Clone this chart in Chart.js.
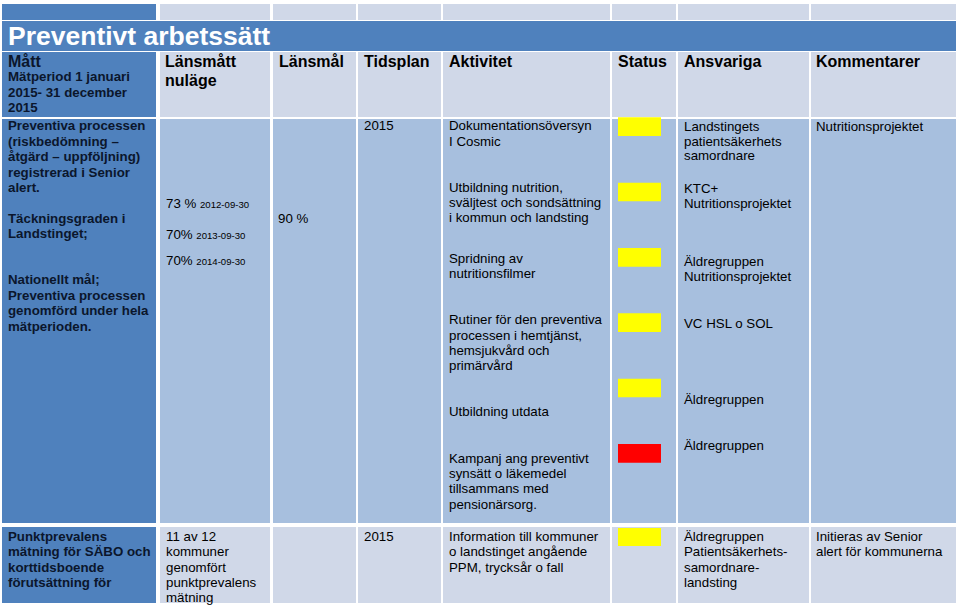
<!DOCTYPE html>
<html>
<head>
<meta charset="utf-8">
<script src="https://cdn.jsdelivr.net/npm/chart.js@4/dist/chart.umd.min.js"></script>
<style>
  body { margin: 0; background: #fff; }
  #slide { position: relative; width: 960px; height: 606px; overflow: hidden;
           font-family: "Liberation Sans", Arial, sans-serif; }
  .c { position: absolute; }
  .d { background: #4F81BD; }
  .l { background: #D0D8E8; }
  .m { background: #A7BFDE; }
  .t { position: absolute; font-size: 13.3px; line-height: 15.3px; white-space: nowrap; color: #000; }
  .b { font-weight: bold; color: #0b162c; }
  .h { position: absolute; font-size: 16px; line-height: 19px; font-weight: bold; white-space: nowrap; color: #000; top: 51.5px; }
  .sm { font-size: 9.6px; }
  canvas { position: absolute; }
</style>
</head>
<body>
<div id="slide">
  <!-- top strip -->
  <div class="c d" style="left:2px;top:4px;width:154px;height:16px"></div>
  <div class="c l" style="left:160px;top:4px;width:110px;height:16px"></div>
  <div class="c l" style="left:273px;top:4px;width:83px;height:16px"></div>
  <div class="c l" style="left:358px;top:4px;width:83px;height:16px"></div>
  <div class="c l" style="left:443px;top:4px;width:167px;height:16px"></div>
  <div class="c l" style="left:612px;top:4px;width:64px;height:16px"></div>
  <div class="c l" style="left:678px;top:4px;width:131px;height:16px"></div>
  <div class="c l" style="left:811px;top:4px;width:145px;height:16px"></div>

  <!-- title -->
  <div class="c d" style="left:2px;top:21px;width:954px;height:30px"></div>
  <div class="t" style="left:8px;top:21px;font-size:26.5px;line-height:31px;font-weight:bold;color:#fff">Preventivt arbetssätt</div>

  <!-- header row -->
  <div class="c d" style="left:2px;top:52px;width:154px;height:65px"></div>
  <div class="c l" style="left:160px;top:52px;width:110px;height:65px"></div>
  <div class="c l" style="left:273px;top:52px;width:83px;height:65px"></div>
  <div class="c l" style="left:358px;top:52px;width:83px;height:65px"></div>
  <div class="c l" style="left:443px;top:52px;width:167px;height:65px"></div>
  <div class="c l" style="left:612px;top:52px;width:64px;height:65px"></div>
  <div class="c l" style="left:678px;top:52px;width:131px;height:65px"></div>
  <div class="c l" style="left:811px;top:52px;width:145px;height:65px"></div>

  <div class="h" style="left:8px;color:#0b162c">Mått</div>
  <div class="t b" style="left:8px;top:69.3px;line-height:15.4px">Mätperiod 1 januari<br>2015- 31 december<br>2015</div>
  <div class="h" style="left:165px">Länsmått<br>nuläge</div>
  <div class="h" style="left:279px">Länsmål</div>
  <div class="h" style="left:364px">Tidsplan</div>
  <div class="h" style="left:449px">Aktivitet</div>
  <div class="h" style="left:618px">Status</div>
  <div class="h" style="left:684px">Ansvariga</div>
  <div class="h" style="left:816px">Kommentarer</div>

  <!-- body row -->
  <div class="c d" style="left:2px;top:119px;width:154px;height:404px"></div>
  <div class="c m" style="left:160px;top:119px;width:110px;height:404px"></div>
  <div class="c m" style="left:273px;top:119px;width:83px;height:404px"></div>
  <div class="c m" style="left:358px;top:119px;width:83px;height:404px"></div>
  <div class="c m" style="left:443px;top:119px;width:167px;height:404px"></div>
  <div class="c m" style="left:612px;top:119px;width:64px;height:404px"></div>
  <div class="c m" style="left:678px;top:119px;width:131px;height:404px"></div>
  <div class="c m" style="left:811px;top:119px;width:145px;height:404px"></div>

  <div class="t b" style="left:8px;top:118.3px;line-height:15.4px">Preventiva processen<br>(riskbedömning –<br>åtgärd – uppföljning)<br>registrerad i Senior<br>alert.<br><br>Täckningsgraden i<br>Landstinget;<br><br><br>Nationellt mål;<br>Preventiva processen<br>genomförd under hela<br>mätperioden.</div>

  <div class="t" style="left:166px;top:196.3px">73 % <span class="sm">2012-09-30</span></div>
  <div class="t" style="left:166px;top:227.3px">70% <span class="sm">2013-09-30</span></div>
  <div class="t" style="left:166px;top:253px">70% <span class="sm">2014-09-30</span></div>

  <div class="t" style="left:278px;top:211.3px">90 %</div>
  <div class="t" style="left:364px;top:118.3px">2015</div>

  <div class="t" style="left:449px;top:118.3px">Dokumentationsöversyn<br>I Cosmic</div>
  <div class="t" style="left:449px;top:179.7px">Utbildning nutrition,<br>sväljtest och sondsättning<br>i kommun och landsting</div>
  <div class="t" style="left:449px;top:250.7px">Spridning av<br>nutritionsfilmer</div>
  <div class="t" style="left:449px;top:312.3px">Rutiner för den preventiva<br>processen i hemtjänst,<br>hemsjukvård och<br>primärvård</div>
  <div class="t" style="left:449px;top:404px">Utbildning utdata</div>
  <div class="t" style="left:449px;top:450.7px">Kampanj ang preventivt<br>synsätt o läkemedel<br>tillsammans med<br>pensionärsorg.</div>

  <div class="t" style="left:684px;top:120px;line-height:14.7px">Landstingets<br>patientsäkerhets<br>samordnare</div>
  <div class="t" style="left:684px;top:180.5px;line-height:15.5px">KTC+<br>Nutritionsprojektet</div>
  <div class="t" style="left:684px;top:254.2px;line-height:15px">Äldregruppen<br>Nutritionsprojektet</div>
  <div class="t" style="left:684px;top:315.6px">VC HSL o SOL</div>
  <div class="t" style="left:684px;top:392.3px">Äldregruppen</div>
  <div class="t" style="left:684px;top:438px">Äldregruppen</div>

  <div class="t" style="left:816px;top:119px">Nutritionsprojektet</div>

  <!-- bottom row -->
  <div class="c d" style="left:2px;top:527px;width:154px;height:76px"></div>
  <div class="c l" style="left:160px;top:527px;width:110px;height:76px"></div>
  <div class="c l" style="left:273px;top:527px;width:83px;height:76px"></div>
  <div class="c l" style="left:358px;top:527px;width:83px;height:76px"></div>
  <div class="c l" style="left:443px;top:527px;width:167px;height:76px"></div>
  <div class="c l" style="left:612px;top:527px;width:64px;height:76px"></div>
  <div class="c l" style="left:678px;top:527px;width:131px;height:76px"></div>
  <div class="c l" style="left:811px;top:527px;width:145px;height:76px"></div>

  <div class="t b" style="left:8px;top:529px;line-height:15.25px">Punktprevalens<br>mätning för SÄBO och<br>korttidsboende<br>förutsättning för</div>
  <div class="t" style="left:166px;top:529px;line-height:15.25px">11 av 12<br>kommuner<br>genomfört<br>punktprevalens<br>mätning</div>
  <div class="t" style="left:364px;top:529px">2015</div>
  <div class="t" style="left:449px;top:529px;line-height:15.25px">Information till kommuner<br>o landstinget angående<br>PPM, trycksår o fall</div>
  <div class="t" style="left:684px;top:529px;line-height:15.25px">Äldregruppen<br>Patientsäkerhets-<br>samordnare-<br>landsting</div>
  <div class="t" style="left:816px;top:529px;line-height:15.25px">Initieras av Senior<br>alert för kommunerna</div>

  <!-- status markers -->
  <canvas id="statusBody" width="43" height="392" style="left:618px;top:94px"></canvas>
  <canvas id="statusBottom" width="43" height="18" style="left:618px;top:528px"></canvas>
</div>

<script>
let bodyActivities = [
    "Dokumentationsöversyn I Cosmic",
    "Utbildning nutrition, sväljtest och sondsättning i kommun och landsting",
    "Spridning av nutritionsfilmer",
    "Rutiner för den preventiva processen i hemtjänst, hemsjukvård och primärvård",
    "Utbildning utdata",
    "Kampanj ang preventivt synsätt o läkemedel tillsammans med pensionärsorg."
];
let bodyStatus = ["gul", "gul", "gul", "gul", "gul", "röd"];
let bodyMarks = [1, 1, 1, 1, 1, 1];

let bottomActivities = ["Information till kommuner o landstinget angående PPM, trycksår o fall"];
let bottomStatus = ["gul"];
let bottomMarks = [1];

let statusColors = {"gul": "#FFFF00", "röd": "#FF0000"};

function statusChart(id, labels, marks, statuses) {
    return new Chart(document.getElementById(id), {
        type: 'bar',
        data: {
            labels: labels,
            datasets: [{
                data: marks,
                backgroundColor: statuses.map(s => statusColors[s]),
                borderWidth: 0,
                barThickness: 18
            }]
        },
        options: {
            indexAxis: 'y',
            responsive: false,
            animation: false,
            devicePixelRatio: 1,
            layout: {padding: 0},
            plugins: {legend: {display: false}, tooltip: {enabled: false}},
            scales: {
                x: {display: false, min: 0, max: 1},
                y: {display: false}
            }
        }
    });
}

statusChart("statusBody", bodyActivities, bodyMarks, bodyStatus);
statusChart("statusBottom", bottomActivities, bottomMarks, bottomStatus);
</script>
</body>
</html>
